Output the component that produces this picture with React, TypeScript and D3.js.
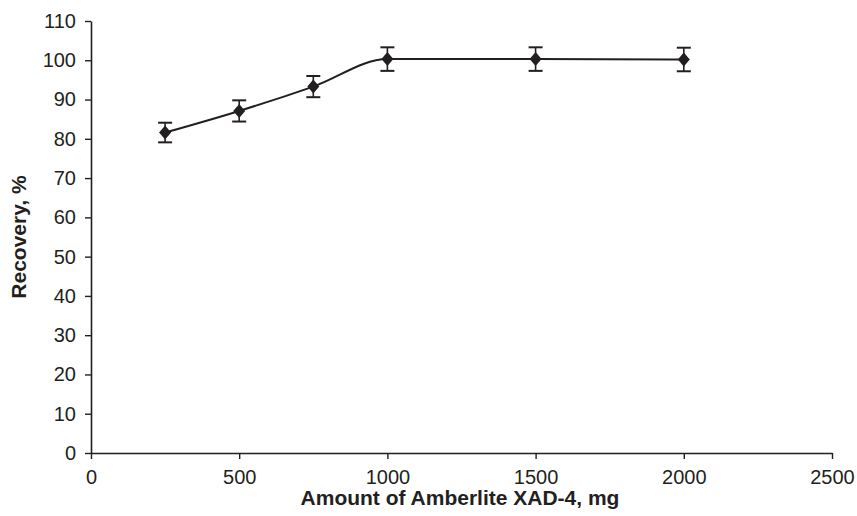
import * as d3 from "d3";
import { useRef, useEffect } from "react";

// data
const amounts = [250, 500, 750, 1000, 1500, 2000];
const recovery = [81.6, 87.1, 93.3, 100.3, 100.3, 100.2];
const errors = [2.5, 2.7, 2.7, 3.0, 3.0, 3.0];
const xTicks = [0, 500, 1000, 1500, 2000, 2500];
const yTicks = [0, 10, 20, 30, 40, 50, 60, 70, 80, 90, 100, 110];

export default function App() {
  const svgRef = useRef<SVGSVGElement>(null);

  useEffect(() => {
    const svg = d3.select(svgRef.current);
    svg.selectAll("*").remove();

    const ink = "#231f20";
    const font = "'Liberation Sans', Arial, sans-serif";
    const left = 91, right = 832, top = 21, bottom = 453;

    const x = d3.scaleLinear().domain([0, 2500]).range([left, right]);
    const y = d3.scaleLinear().domain([0, 110]).range([bottom, top]);

    const data = amounts.map((a, i) => ({ a, r: recovery[i], e: errors[i] }));

    // axes
    const xAxis = svg.append("g").attr("transform", `translate(0,${bottom})`)
      .call(d3.axisBottom(x).tickValues(xTicks).tickFormat(d3.format("d")).tickSize(6).tickSizeOuter(0).tickPadding(11));
    const yAxis = svg.append("g").attr("transform", `translate(${left},0)`)
      .call(d3.axisLeft(y).tickValues(yTicks).tickFormat(d3.format("d")).tickSize(6).tickSizeOuter(0).tickPadding(9));

    [xAxis, yAxis].forEach(g => {
      g.select(".domain").attr("stroke", ink).attr("stroke-width", 1.6);
      g.selectAll(".tick line").attr("stroke", ink).attr("stroke-width", 1.4);
      g.selectAll(".tick text").attr("fill", ink)
        .style("font-family", font).style("font-size", "20px");
    });

    // smoothed line
    const line = d3.line<{ a: number; r: number }>()
      .x(d => x(d.a)).y(d => y(d.r)).curve(d3.curveMonotoneX);
    svg.append("path").datum(data).attr("d", line).attr("fill", "none")
      .attr("stroke", ink).attr("stroke-width", 2);

    // error bars
    const eb = svg.append("g").selectAll("g").data(data).enter().append("g");
    eb.append("line").attr("x1", d => x(d.a)).attr("x2", d => x(d.a))
      .attr("y1", d => y(d.r + d.e)).attr("y2", d => y(d.r - d.e))
      .attr("stroke", ink).attr("stroke-width", 1.6);
    eb.append("line").attr("x1", d => x(d.a) - 7).attr("x2", d => x(d.a) + 7)
      .attr("y1", d => y(d.r + d.e)).attr("y2", d => y(d.r + d.e))
      .attr("stroke", ink).attr("stroke-width", 2);
    eb.append("line").attr("x1", d => x(d.a) - 7).attr("x2", d => x(d.a) + 7)
      .attr("y1", d => y(d.r - d.e)).attr("y2", d => y(d.r - d.e))
      .attr("stroke", ink).attr("stroke-width", 2);

    // diamond markers
    svg.append("g").selectAll("path").data(data).enter().append("path")
      .attr("d", "M0,-7L6,0L0,7L-6,0Z")
      .attr("transform", d => `translate(${x(d.a)},${y(d.r)})`)
      .attr("fill", ink);

    // axis titles
    svg.append("text").attr("x", 460).attr("y", 505).attr("text-anchor", "middle")
      .style("font-family", font).style("font-size", "21px")
      .style("font-weight", "bold").attr("fill", ink).text("Amount of Amberlite XAD-4, mg");
    svg.append("text").attr("transform", "rotate(-90)").attr("x", -(top + bottom) / 2).attr("y", 26)
      .attr("text-anchor", "middle")
      .style("font-family", font).style("font-size", "21px")
      .style("font-weight", "bold").attr("fill", ink).text("Recovery, %");
  }, []);

  return (
    <svg ref={svgRef} width={857} height={516}
      style={{ position: "absolute", left: 0, top: 0, background: "#fff" }} />
  );
}
